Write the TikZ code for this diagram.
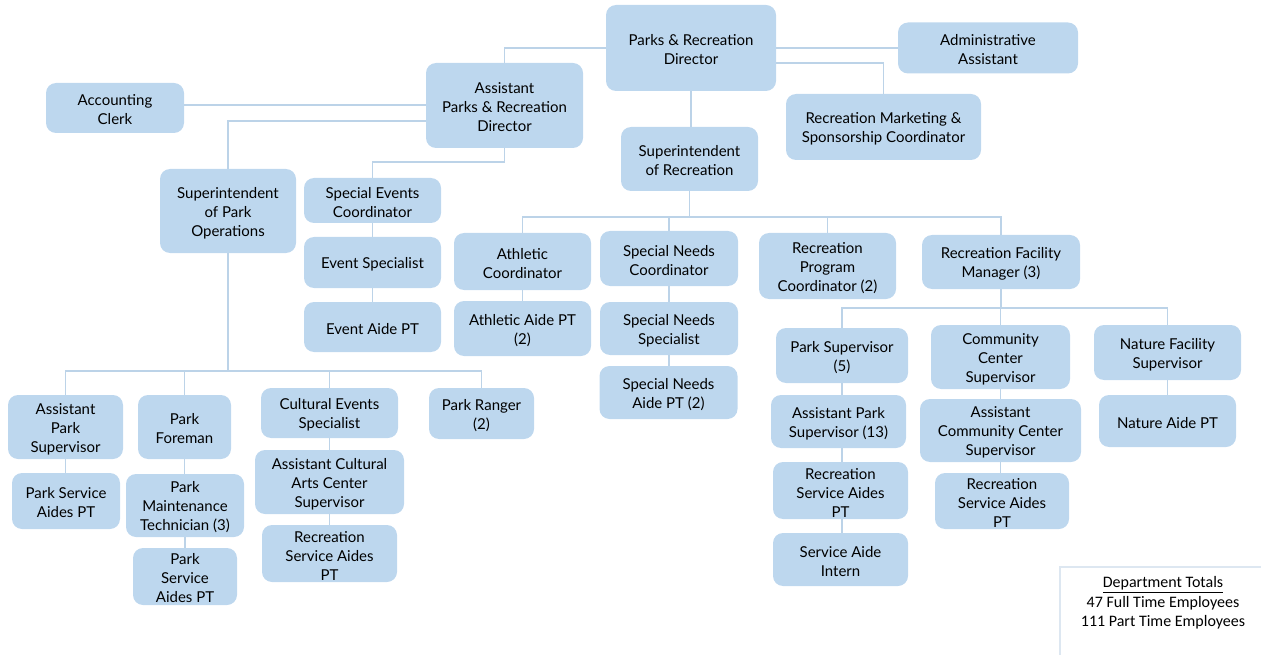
\documentclass[tikz,border=0pt]{standalone}
\usepackage{fontspec}
\setmainfont{Lato}
\newfontfamily\calfont{Carlito}
\definecolor{boxfill}{HTML}{BDD7EE}
\definecolor{linec}{HTML}{BCD3E8}
\definecolor{framec}{HTML}{DDE7F1}
\begin{document}
\begin{tikzpicture}[x=1pt,y=-1pt,
  box/.style={fill=boxfill, rounded corners=10pt, inner sep=0pt},
  boxtext/.style={inner sep=0pt, align=center,
    font=\fontsize{15}{19}\selectfont, text=black},
  conn/.style={draw=linec, line width=1.6pt}]
\useasboundingbox (0,0) rectangle (1261,655);
% nodes: box shape + its text label, shifted slightly down
\newcommand{\bx}[7]{\node[box, minimum width=#4, minimum height=#5] (#1) at (#2,#3) {};
  \node[boxtext] (#1-t) at ([yshift=-2pt]#1.center) {#6};}
\bx{dir}{691}{48}{170}{86}{Parks \& Recreation\\Director}{}
\bx{adm}{988}{48}{180}{51}{Administrative\\Assistant}{}
\bx{mkt}{883.5}{127}{195}{66}{Recreation Marketing \&\\Sponsorship Coordinator}{}
\bx{ad}{504.5}{105.5}{157}{85}{Assistant\\Parks \& Recreation\\Director}{}
\bx{acc}{115}{108}{138}{50}{Accounting\\Clerk}{}
\bx{sr}{689.5}{159}{137}{64}{Superintendent\\of Recreation}{}
\bx{spo}{228}{211}{136}{84}{Superintendent\\of Park\\Operations}{}
\bx{sec}{372.5}{200.5}{137}{45}{Special Events\\Coordinator}{}
\bx{es}{372.5}{262.5}{137}{51}{Event Specialist}{}
\bx{ea}{372.5}{327}{137}{50}{Event Aide PT}{}
\bx{ath}{522.5}{261.5}{137}{57}{Athletic\\Coordinator}{}
\bx{aa}{522.5}{328.5}{137}{55}{Athletic Aide PT\\(2)}{}
\bx{snc}{669}{258.5}{138}{55}{Special Needs\\Coordinator}{}
\bx{sns}{669}{328.5}{138}{53}{Special Needs\\Specialist}{}
\bx{sna}{668.5}{392.5}{138}{53}{Special Needs\\Aide PT (2)}{}
\bx{rpc}{827.5}{266}{137}{66}{Recreation\\Program\\Coordinator (2)}{}
\bx{rfm}{1001}{262}{158}{54}{Recreation Facility\\Manager (3)}{}
\bx{ps}{842}{355.5}{132}{55}{Park Supervisor\\(5)}{}
\bx{ccs}{1000.5}{357}{139}{64}{Community\\Center\\Supervisor}{}
\bx{nfs}{1167.5}{352.5}{147}{55}{Nature Facility\\Supervisor}{}
\bx{aps2}{838.5}{421.5}{135}{53}{Assistant Park\\Supervisor (13)}{}
\bx{accs}{1000.5}{430.5}{161}{63}{Assistant\\Community Center\\Supervisor}{}
\bx{na}{1167.5}{421}{137}{52}{Nature Aide PT}{}
\bx{rsa1}{840.5}{490.5}{135}{57}{Recreation\\Service Aides\\PT}{}
\bx{rsa2}{1002}{501}{134}{56}{Recreation\\Service Aides\\PT}{}
\bx{sai}{840.5}{559.5}{135}{53}{Service Aide\\Intern}{}
\bx{aps}{65.5}{427}{115}{64}{Assistant\\Park\\Supervisor}{}
\bx{pf}{184.5}{427}{93}{64}{Park\\Foreman}{}
\bx{ces}{329.5}{413}{137}{50}{Cultural Events\\Specialist}{}
\bx{pr}{481.5}{413.5}{105}{51}{Park Ranger\\(2)}{}
\bx{psa1}{66}{501}{108}{56}{Park Service\\Aides PT}{}
\bx{pmt}{185}{505.5}{118}{63}{Park\\Maintenance\\Technician (3)}{}
\bx{acac}{329.5}{482}{149}{64}{Assistant Cultural\\Arts Center\\Supervisor}{}
\bx{rsa3}{329.5}{553.5}{135}{57}{Recreation\\Service Aides\\PT}{}
\bx{psa2}{185}{576.5}{104}{57}{Park\\Service\\Aides PT}{}
% bus coordinates
\coordinate (rbus) at (689.5,217);
\coordinate (fbus) at (1001,308);
\coordinate (pbus) at (228,371);
% connectors
\draw[conn] (dir.west) -| (ad.north);
\draw[conn] (dir.east) -- (adm.west);
\draw[conn] ([yshift=-15pt]dir.east) -| (mkt.north);
\draw[conn] (dir.south) -- (dir.south |- sr.north);
\draw[conn] ([yshift=3pt]acc.east) -- ([yshift=3pt]acc.east -| ad.west);
\draw[conn] ([yshift=-15.5pt]ad.west) -| (spo.north);
\draw[conn] (ad.south) -- ++(0,14) -| (sec.north);
\draw[conn] (sec.south) -- (sec.south |- es.north);
\draw[conn] (es.south) -- (es.south |- ea.north);
\draw[conn] (sr.south) -- (rbus);
\draw[conn] (ath.north) |- (rbus) -| (rfm.north);
\draw[conn] (snc.north) -- (snc.north |- rbus);
\draw[conn] (rpc.north) -- (rpc.north |- rbus);
\draw[conn] (ath.south) -- (ath.south |- aa.north);
\draw[conn] (snc.south) -- (snc.south |- sns.north);
\draw[conn] (sns.south) -- (sns.south |- sna.north);
\draw[conn] (rfm.south) -- (fbus);
\draw[conn] (ps.north) |- (fbus) -| (nfs.north);
\draw[conn] (ccs.north) -- (ccs.north |- fbus);
\draw[conn] (ps.south) -- (ps.south |- aps2.north);
\draw[conn] (aps2.south -| ps.south) -- (ps.south |- rsa1.north);
\draw[conn] (rsa1.south -| ps.south) -- (ps.south |- sai.north);
\draw[conn] (ccs.south) -- (ccs.south |- accs.north);
\draw[conn] (accs.south) -- (accs.south |- rsa2.north);
\draw[conn] (nfs.south) -- (nfs.south |- na.north);
\draw[conn] (spo.south) -- (pbus);
\draw[conn] (aps.north) |- (pbus) -| (pr.north);
\draw[conn] (pf.north) -- (pf.north |- pbus);
\draw[conn] (ces.north) -- (ces.north |- pbus);
\draw[conn] (aps.south) -- (aps.south |- psa1.north);
\draw[conn] (pf.south) -- (pf.south |- pmt.north);
\draw[conn] (pmt.south) -- (pmt.south |- psa2.north);
\draw[conn] (ces.south) -- (ces.south |- acac.north);
\draw[conn] (acac.south) -- (acac.south |- rsa3.north);
% totals
\coordinate (tb1) at (1060,655);
\coordinate (tb2) at (1060,567);
\coordinate (tb3) at (1261,567);
\draw[draw=framec, line width=1.2pt] (tb1) -- (tb2) -- (tb3);
\node[align=center, inner sep=0pt, font=\calfont\fontsize{16}{19.5}\selectfont] (tot) at (1163,603)
  {\underline{Department Totals}\\47 Full Time Employees\\111 Part Time Employees};
\end{tikzpicture}
\end{document}
